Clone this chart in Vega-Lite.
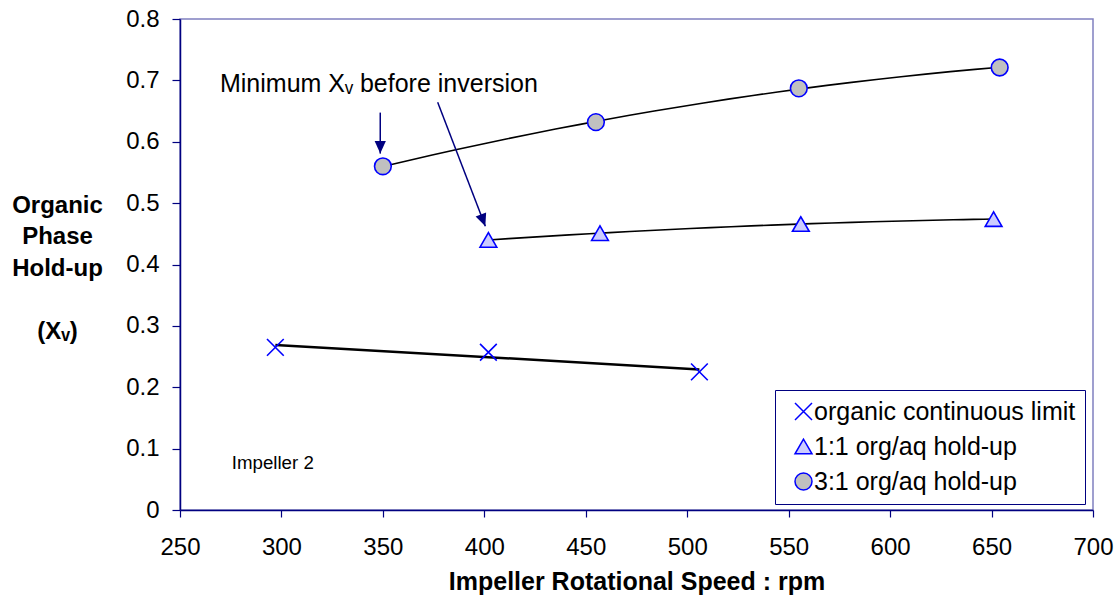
{
  "$schema": "https://vega.github.io/schema/vega-lite/v6.json",
  "width": 913,
  "height": 491,
  "autosize": {"type": "none"},
  "padding": {"left": 180, "top": 19, "right": 27, "bottom": 86},
  "background": "white",
  "config": {
    "font": "Liberation Sans",
    "view": {"stroke": "#8080c0", "strokeWidth": 1.5},
    "axis": {
      "grid": false,
      "domainColor": "#000080",
      "tickColor": "#000080",
      "domainWidth": 1.5,
      "tickWidth": 1.2,
      "labelFont": "Liberation Sans",
      "labelFontSize": 24,
      "labelColor": "black",
      "titleFont": "Liberation Sans",
      "titleFontSize": 24,
      "titleFontWeight": "bold",
      "titleColor": "black"
    }
  },
  "datasets": {
    "points": [
      {"rpm": 297, "holdup": 0.265, "series": "organic continuous limit"},
      {"rpm": 402, "holdup": 0.257, "series": "organic continuous limit"},
      {"rpm": 506, "holdup": 0.225, "series": "organic continuous limit"},
      {"rpm": 402, "holdup": 0.440, "series": "1:1 org/aq hold-up"},
      {"rpm": 457, "holdup": 0.451, "series": "1:1 org/aq hold-up"},
      {"rpm": 556, "holdup": 0.466, "series": "1:1 org/aq hold-up"},
      {"rpm": 651, "holdup": 0.474, "series": "1:1 org/aq hold-up"},
      {"rpm": 350, "holdup": 0.560, "series": "3:1 org/aq hold-up"},
      {"rpm": 455, "holdup": 0.632, "series": "3:1 org/aq hold-up"},
      {"rpm": 555, "holdup": 0.687, "series": "3:1 org/aq hold-up"},
      {"rpm": 654, "holdup": 0.721, "series": "3:1 org/aq hold-up"}
    ],
    "arrows": [
      {"rpm": 348.7, "holdup": 0.6475, "rpm2": 348.7, "holdup2": 0.5807},
      {"rpm": 377.0, "holdup": 0.6643, "rpm2": 400.5, "holdup2": 0.4624}
    ],
    "notes": [
      {"label": "Minimum Xᵥ before inversion", "rpm": 269.7, "holdup": 0.6812}
    ],
    "small": [
      {"label": "Impeller 2", "rpm": 275.5, "holdup": 0.0663}
    ]
  },
  "layer": [
    {
      "data": {"name": "points"},
      "transform": [
        {"filter": "datum.series == 'organic continuous limit'"},
        {"regression": "holdup", "on": "rpm", "method": "linear"}
      ],
      "mark": {"type": "line", "color": "black", "strokeWidth": 2.5},
      "encoding": {
        "x": {
          "field": "rpm", "type": "quantitative",
          "scale": {"domain": [250, 700], "nice": false, "zero": false},
          "axis": {
            "values": [250, 300, 350, 400, 450, 500, 550, 600, 650, 700],
            "title": "Impeller Rotational Speed : rpm",
            "titleFontSize": 25,
            "tickSize": 7,
            "labelBaseline": "alphabetic",
            "labelPadding": 37,
            "labelFlush": false,
            "labelOverlap": false,
            "titleBaseline": "alphabetic",
            "titleY": 79
          }
        },
        "y": {
          "field": "holdup", "type": "quantitative",
          "scale": {"domain": [0, 0.8], "nice": false},
          "axis": {
            "values": [0, 0.1, 0.2, 0.3, 0.4, 0.5, 0.6, 0.7, 0.8],
            "labelExpr": "datum.value == 0 ? '0' : format(datum.value, '.1f')",
            "tickSize": 8,
            "labelPadding": 13,
            "labelBaseline": "middle",
            "labelFlush": false,
            "labelOverlap": false,
            "title": ["Organic", "Phase", "Hold-up", "\u200b", "(Xᵥ)"],
            "titleAngle": 0,
            "titleAlign": "center",
            "titleBaseline": "alphabetic",
            "titleX": -123,
            "titleY": 193,
            "titleLineHeight": 31.5
          }
        }
      }
    },
    {
      "data": {"name": "points"},
      "transform": [
        {"filter": "datum.series != 'organic continuous limit'"},
        {"regression": "holdup", "on": "rpm", "method": "poly", "order": 2, "groupby": ["series"]}
      ],
      "mark": {"type": "line", "color": "black", "strokeWidth": 1.6},
      "encoding": {
        "x": {"field": "rpm", "type": "quantitative"},
        "y": {"field": "holdup", "type": "quantitative"},
        "detail": {"field": "series", "type": "nominal"}
      }
    },
    {
      "data": {"name": "arrows"},
      "mark": {"type": "rule", "color": "#000080", "strokeWidth": 1.5},
      "encoding": {
        "x": {"field": "rpm", "type": "quantitative"},
        "y": {"field": "holdup", "type": "quantitative"},
        "x2": {"field": "rpm2"},
        "y2": {"field": "holdup2"}
      }
    },
    {
      "data": {"name": "arrows"},
      "transform": [{"filter": "datum.rpm2 < 360"}],
      "mark": {"type": "point", "shape": "M0,0L-0.45,-1L0.45,-1Z", "size": 625, "filled": true, "color": "#000080", "opacity": 1},
      "encoding": {
        "x": {"field": "rpm2", "type": "quantitative"},
        "y": {"field": "holdup2", "type": "quantitative"}
      }
    },
    {
      "data": {"name": "arrows"},
      "transform": [{"filter": "datum.rpm2 > 360"}],
      "mark": {"type": "point", "shape": "M0,0L-0.45,-1L0.45,-1Z", "size": 625, "filled": true, "color": "#000080", "opacity": 1, "angle": 339},
      "encoding": {
        "x": {"field": "rpm2", "type": "quantitative"},
        "y": {"field": "holdup2", "type": "quantitative"}
      }
    },
    {
      "data": {"name": "points"},
      "mark": {"type": "point", "size": 280, "stroke": "#0000ff", "strokeWidth": 1.6, "opacity": 1, "fillOpacity": 1},
      "encoding": {
        "x": {"field": "rpm", "type": "quantitative"},
        "y": {"field": "holdup", "type": "quantitative"},
        "shape": {
          "field": "series", "type": "nominal",
          "scale": {
            "domain": ["organic continuous limit", "1:1 org/aq hold-up", "3:1 org/aq hold-up"],
            "range": ["M-1,-1L1,1M-1,1L1,-1", "triangle-up", "circle"]
          },
          "legend": {
            "title": null, "orient": "none", "legendX": 595, "legendY": 371,
            "padding": 9, "symbolOffset": 7, "labelOffset": -2, "rowPadding": 9,
            "strokeColor": "#000080", "fillColor": "white", "labelLimit": 500,
            "labelFont": "Liberation Sans", "labelFontSize": 25, "labelColor": "black",
            "symbolSize": 289,
            "encode": {"symbols": {"update": {"stroke": {"value": "#0000ff"}, "strokeWidth": {"value": 1.6}, "opacity": {"value": 1}}}}
          }
        },
        "fill": {
          "field": "series", "type": "nominal",
          "scale": {
            "domain": ["organic continuous limit", "1:1 org/aq hold-up", "3:1 org/aq hold-up"],
            "range": ["transparent", "#ccccff", "#c0c0c0"]
          },
          "legend": {
            "title": null, "orient": "none", "legendX": 595, "legendY": 371,
            "padding": 9, "symbolOffset": 7, "labelOffset": -2, "rowPadding": 9,
            "strokeColor": "#000080", "fillColor": "white", "labelLimit": 500,
            "labelFont": "Liberation Sans", "labelFontSize": 25, "labelColor": "black",
            "symbolSize": 289,
            "encode": {"symbols": {"update": {"stroke": {"value": "#0000ff"}, "strokeWidth": {"value": 1.6}, "opacity": {"value": 1}}}}
          }
        }
      }
    },
    {
      "data": {"name": "notes"},
      "mark": {"type": "text", "align": "left", "baseline": "alphabetic", "fontSize": 25, "font": "Liberation Sans", "color": "black"},
      "encoding": {
        "x": {"field": "rpm", "type": "quantitative"},
        "y": {"field": "holdup", "type": "quantitative"},
        "text": {"field": "label"}
      }
    },
    {
      "data": {"name": "small"},
      "mark": {"type": "text", "align": "left", "baseline": "alphabetic", "fontSize": 18.7, "font": "Liberation Sans", "color": "black"},
      "encoding": {
        "x": {"field": "rpm", "type": "quantitative"},
        "y": {"field": "holdup", "type": "quantitative"},
        "text": {"field": "label"}
      }
    }
  ]
}
